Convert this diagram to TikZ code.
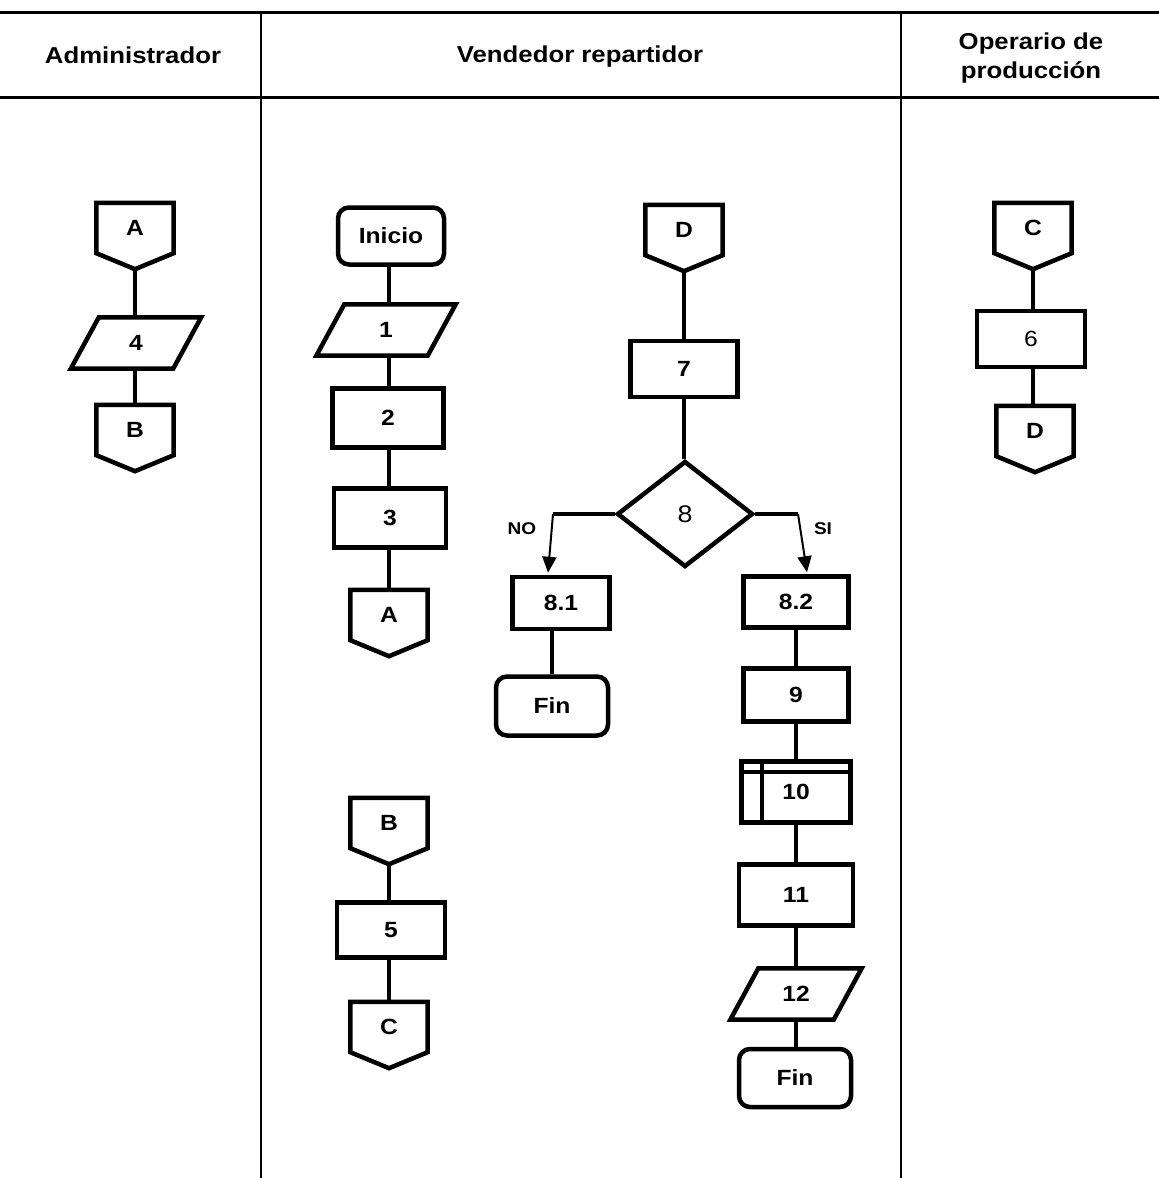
\documentclass[tikz,border=0pt]{standalone}
\usepackage{fontspec}
\setmainfont{Liberation Sans}[FakeStretch=1.12]
\usetikzlibrary{shapes.geometric,calc,arrows.meta}

% off-page connector: a box with a pointed bottom
\newcommand\offpage[4]{%
  \node[conn] (#1) at (#2,#3) {#4};
  \coordinate (#1-tip) at ($(#1.south)+(0,16)$);
  \draw[shapeline] (#1.north west) -- (#1.north east) -- (#1.south east)
    -- (#1-tip) -- (#1.south west) -- cycle;
}
% input/output: a slanted parallelogram around a plain node
\newcommand\iobox[5]{%
  \node[io,minimum width=#4] (#1) at (#2,#3) {#5};
  \draw[shapeline] ($(#1.north west)+(14,0)$) -- ($(#1.north east)+(14,0)$)
    -- ($(#1.south east)+(-14,0)$) -- ($(#1.south west)+(-14,0)$) -- cycle;
}

\tikzset{
  lbl/.style={font=\fontsize{22}{26}\selectfont\bfseries},
  head/.style={font=\fontsize{23}{29}\selectfont\bfseries, align=center, inner sep=0pt},
  shapeline/.style={line width=4.5pt, line join=miter},
  proc/.style={lbl, draw, shapeline, inner sep=0pt},
  term/.style={proc, rounded corners=11pt},
  conn/.style={lbl, inner sep=0pt, minimum width=77pt, minimum height=50pt},
  io/.style={lbl, inner sep=0pt, minimum height=51pt},
  flow/.style={line width=3.5pt},
  arr/.style={line width=2pt, -{Triangle[length=16pt,width=14pt]}},
  branch/.style={font=\fontsize{17}{20}\selectfont\bfseries, inner sep=0pt},
}

\begin{document}
\begin{tikzpicture}[x=1pt,y=-1pt]
\useasboundingbox (0,0) rectangle (1159,1178);
\fill[white] (0,0) rectangle (1159,1178);

% lane frame
\draw[line width=3pt] (0,12) -- (1159,12);
\draw[line width=3pt] (0,97) -- (1159,97);
\draw[line width=2pt] (261,12) -- (261,1178);
\draw[line width=2pt] (901,12) -- (901,1178);

\node[head] (hAdm) at (133,55) {Administrador};
\node[head] (hVen) at (580,57) {Vendedor repartidor};
\node[head] (hOpe) at (1031,58) {Operario de\\producción};

% ---- Administrador
\offpage{cA1}{135}{228}{A}
\iobox{p4}{136}{343}{102pt}{4}
\offpage{cB1}{135}{430}{B}
\draw[flow] (cA1-tip) -- (cA1-tip |- p4.north);
\draw[flow] (p4.south -| cA1-tip) -- (cB1.north);

% ---- Vendedor repartidor, left column
\node[term, minimum width=106pt, minimum height=57pt] (ini) at (391,236) {Inicio};
\iobox{p1}{386}{330}{111pt}{1}
\node[proc, minimum width=111pt, minimum height=59pt] (b2) at (388,418) {2};
\node[proc, minimum width=112pt, minimum height=59pt] (b3) at (390,518) {3};
\offpage{cA2}{389}{615}{A}
\draw[flow] (ini.south -| cA2) -- (p1.north -| cA2);
\draw[flow] (p1.south -| cA2) -- (b2.north -| cA2);
\draw[flow] (b2.south -| cA2) -- (b3.north -| cA2);
\draw[flow] (b3.south -| cA2) -- (cA2.north);

\offpage{cB2}{389}{823}{B}
\node[proc, minimum width=108pt, minimum height=55pt] (b5) at (391,930) {5};
\offpage{cC2}{389}{1027}{C}
\draw[flow] (cB2-tip) -- (cB2-tip |- b5.north);
\draw[flow] (b5.south -| cB2-tip) -- (cC2.north);

% ---- Vendedor repartidor, right column
\offpage{cD2}{684}{230}{D}
\node[proc, minimum width=107pt, minimum height=56pt] (b7) at (684,369) {7};
\node[draw, shapeline, diamond, inner sep=0pt, minimum width=136pt, minimum height=106pt,
      font=\fontsize{24}{28}\selectfont] (d8) at (685,514) {8};
\draw[flow] (cD2-tip) -- (b7.north);
\draw[flow] (b7.south) -- (b7.south |- d8.north);

\node[proc, minimum width=97pt, minimum height=52pt] (b81) at (561,603) {8.1};
\node[term, minimum width=112pt, minimum height=59pt] (fin1) at (552,706) {Fin};
\coordinate (noK) at (553,514);
\draw[flow] (d8.west) -- (noK);
\draw[arr] (noK) -- ($(b81.north)+(-13,-2)$);
\node[branch] (noL) at (522,529) {NO};
\draw[flow] (fin1.north) -- (fin1.north |- b81.south);

\node[proc, minimum width=105pt, minimum height=51pt] (b82) at (796,602) {8.2};
\coordinate (siK) at (798,514);
\draw[flow] (d8.east) -- (siK);
\draw[arr] (siK) -- ($(b82.north)+(11,-2)$);
\node[branch] (siL) at (823,529) {SI};

\node[proc, minimum width=105pt, minimum height=53pt] (b9) at (796,695) {9};
\node[proc, minimum width=109pt, minimum height=61pt] (b10) at (796,792) {\raisebox{-5pt}{10}};
\draw[line width=4pt] ($(b10.north west)+(0,13)$) -- ($(b10.north east)+(0,13)$);
\draw[line width=4pt] ($(b10.north west)+(23,0)$) -- ($(b10.south west)+(23,0)$);
\node[proc, minimum width=114pt, minimum height=61pt] (b11) at (796,895) {11};
\iobox{p12}{796}{994}{103pt}{12}
\node[term, minimum width=112pt, minimum height=58pt] (fin2) at (795,1078) {Fin};
\draw[flow] (b82.south -| b9) -- (b9.north);
\draw[flow] (b9.south) -- (b10.north -| b9);
\draw[flow] (b10.south -| b9) -- (b11.north -| b9);
\draw[flow] (b11.south -| b9) -- (p12.north -| b9);
\draw[flow] (p12.south -| b9) -- (fin2.north -| b9);

% ---- Operario de producción
\offpage{cC3}{1033}{228}{C}
\node[proc, minimum width=108pt, minimum height=56pt, font=\fontsize{22}{26}\selectfont] (b6) at (1031,339) {6};
\offpage{cD3}{1035}{431}{D}
\draw[flow] (cC3-tip) -- (cC3-tip |- b6.north);
\draw[flow] (b6.south -| cC3-tip) -- (cD3.north -| cC3-tip);
\end{tikzpicture}
\end{document}
